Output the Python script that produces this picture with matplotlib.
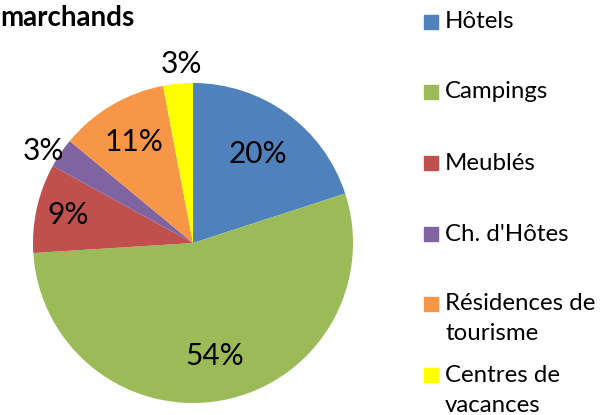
import numpy as np
import matplotlib
matplotlib.use("Agg")
import matplotlib.pyplot as plt

plt.rcParams["font.family"] = ["Lato", "DejaVu Sans"]

categories = ["Hôtels", "Campings", "Meublés", "Ch. d'Hôtes", "Résidences de\ntourisme", "Centres de\nvacances"]
shares = [20, 54, 9, 3, 11, 3]
pct_labels = ["20%", "54%", "9%", "3%", "11%", "3%"]
colors = ["#4F81BD", "#9BBB59", "#C0504D", "#8064A2", "#F79646", "#FFFF00"]

W, H = 600, 415
fig = plt.figure(figsize=(W / 100, H / 100), dpi=100)

# pie axes: centre (193, 243), radius 160 px
cx, cy, r = 193, 243, 160
ax = fig.add_axes([(cx - r) / W, (H - cy - r) / H, 2 * r / W, 2 * r / H])
wedges, _ = ax.pie(shares, colors=colors, startangle=90, counterclock=False,
                   radius=1, wedgeprops=dict(linewidth=0))
ax.set_xlim(-1, 1)
ax.set_ylim(-1, 1)
ax.set_aspect("equal")
ax.axis("off")

# label distances (fraction of radius) and small angle nudges (deg)
dists = [0.69, 0.72, 0.8, 1.1, 0.73, 1.12]
nudges = [0, 0, 0, 2.5, 0, -1.6]
for w, lab, d, nd in zip(wedges, pct_labels, dists, nudges):
    ang = np.deg2rad((w.theta1 + w.theta2) / 2 + nd)
    ax.text(d * np.cos(ang), d * np.sin(ang), lab, ha="center", va="center",
            fontsize=21.5, clip_on=False)

fig.text(0, 1 - 18 / H, "marchands", fontsize=20, fontweight="bold",
         ha="left", va="center")

# legend, placed by hand
rows = [22, 92, 163, 234, 304, 375]
for lab, col, y in zip(categories, colors, rows):
    fig.patches.append(plt.Rectangle((424 / W, 1 - (y + 7) / H), 14 / W, 14 / H,
                                     transform=fig.transFigure, color=col))
    for i, line in enumerate(lab.split("\n")):
        fig.text(445 / W, 1 - (y + 30 * i) / H, line, fontsize=17.3, ha="left",
                 va="center", transform=fig.transFigure)

fig.savefig("out.png", dpi=100)
